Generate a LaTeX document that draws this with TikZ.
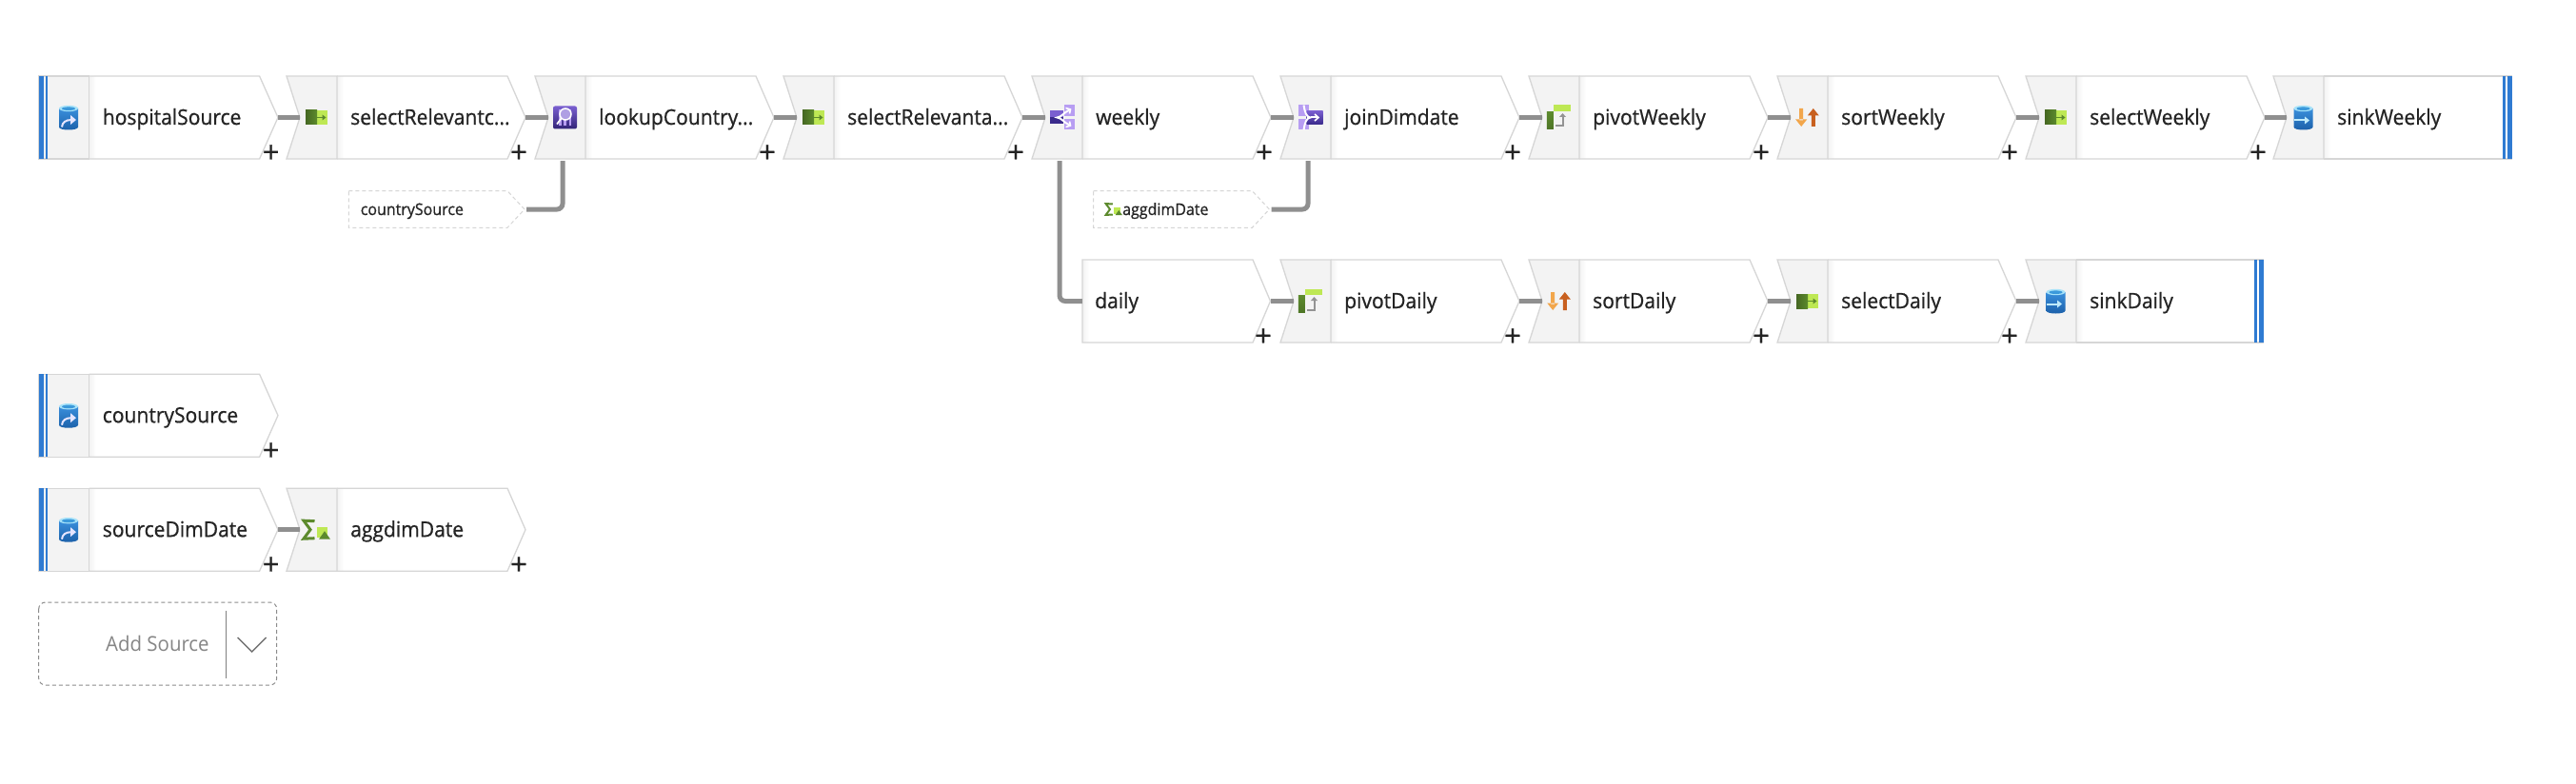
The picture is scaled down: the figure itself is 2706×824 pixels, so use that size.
\documentclass[tikz,border=0pt]{standalone}
\usepackage{fontspec}
\setmainfont{Open Sans}
\newfontfamily\labelfont[FakeBold=0.8,FakeStretch=0.94]{Open Sans}
\newfontfamily\plusfont[FakeBold=0.8]{Open Sans}
\newfontfamily\addfont[FakeStretch=0.95]{Open Sans}
\usetikzlibrary{calc}
\definecolor{edgegray}{HTML}{D6D6D6}
\definecolor{panelgray}{HTML}{F3F3F3}
\definecolor{linkgray}{HTML}{8F8F8F}
\definecolor{barblue}{HTML}{2F7BD2}
\definecolor{inkdark}{HTML}{242424}
\definecolor{lilac}{HTML}{B79DF2}
\definecolor{deeppurple}{HTML}{3A2A8C}
\definecolor{midpurple}{HTML}{7A5FD0}
\definecolor{lightgreen}{HTML}{BEE854}
\definecolor{darkgreen}{HTML}{5C8A2D}
\definecolor{sortlight}{HTML}{F2A64B}
\definecolor{sortdark}{HTML}{C8601F}
\tikzset{
  x=1pt,y=-1pt,
  nodeline/.style={draw=edgegray,line width=1.3pt,line join=miter},
  anchorbox/.style={draw=none,inner sep=0pt,minimum height=87pt},
  bodytext/.style={anchor=base west,inner sep=0pt,text=inkdark,font=\labelfont\fontsize{22.4}{27}\selectfont},
  smalltext/.style={anchor=base west,inner sep=0pt,text=inkdark,font=\labelfont\fontsize{17}{20}\selectfont},
  plusmark/.style={inner sep=0pt,text=inkdark,font=\plusfont\fontsize{31}{31}\selectfont},
  link/.style={draw=linkgray,line width=5pt,line cap=butt,rounded corners=6pt},
  refline/.style={draw=edgegray,line width=1pt,dash pattern=on 4pt off 3pt},
}
% ---------- icons (origin at centre of icon, 1 unit = 1 px)
\newcommand{\cyl}{%
  \shade[top color={rgb,255:red,58;green,143;blue,220},bottom color={rgb,255:red,27;green,95;blue,168}]
    (-10,-9.5) -- (-10,10) .. controls (-10,14) and (10,14) .. (10,10) -- (10,-9.5) -- cycle;
  \fill[cyan!35] (0,-9.5) ellipse (10 and 3.2);
  \fill[cyan!70!blue!80] (0,-9.3) ellipse (7 and 1.8);}
\newcommand{\iconSource}{\cyl
  \draw[white!90!blue,line width=2pt] (-7,10) .. controls (-6.5,5) and (-3,2.5) .. (3,2.5);
  \fill[white!90!blue] (2,-2.5) -- (8,2.5) -- (2,7.5) -- cycle;}
\newcommand{\iconSink}{\cyl
  \draw[white!75!cyan,line width=2pt] (-10,3) -- (3,3);
  \fill[white!75!cyan] (1.5,-1) -- (6.5,3) -- (1.5,7) -- cycle;}
\newcommand{\iconSelect}{%
  \fill[lightgreen] (0,-7.5) rectangle (11.5,7.5);
  \shade[left color=darkgreen!75!black,right color=darkgreen] (-11.5,-7.5) rectangle (0.5,7.5);
  \draw[darkgreen,line width=1.3pt] (0,0) -- (7,0);
  \fill[darkgreen] (6,-3) -- (10,0) -- (6,3) -- cycle;}
\newcommand{\iconLookup}{%
  \shade[top color=midpurple,bottom color=deeppurple!85!black,rounded corners=2pt] (-12.5,-12) rectangle (12.5,12);
  \fill[lilac] (-6.5,-8) rectangle (-4,9);
  \fill[lilac] (-1.2,-8) rectangle (1.2,9);
  \fill[lilac] (4,-8) rectangle (6.5,9);
  \filldraw[draw=white,fill=midpurple!60!white,line width=1.5pt] (0.5,-3.5) circle (6);
  \draw[white,line width=1.7pt] (-4,1) -- (-8.5,7);}
\newcommand{\iconSplit}{%
  \fill[lilac] (2,-13) rectangle (13,-1.5);
  \fill[lilac] (2,1.5) rectangle (13,13);
  \fill[midpurple] (-13,-7) rectangle (1,0);
  \fill[deeppurple] (-13,0) rectangle (1,7);
  \draw[white,line width=2pt] (8,-8) .. controls (3,-6) and (-1,0) .. (-5,0) .. controls (-1,0) and (3,6) .. (8,8);
  \draw[white,line width=1.6pt] (4,-10) -- (9,-8.5) -- (8,-4);
  \draw[white,line width=1.6pt] (4,10) -- (9,8.5) -- (8,4);}
\newcommand{\iconJoin}{%
  \fill[lilac] (-13,-13) rectangle (-2,-1.5);
  \fill[lilac] (-13,1.5) rectangle (-2,13);
  \shade[top color=midpurple,bottom color=deeppurple] (-4,-7) rectangle (13,7);
  \draw[white,line width=2pt] (-7,-13) .. controls (-6,-6) and (-4,0) .. (0,0) .. controls (-4,0) and (-6,6) .. (-7,13);
  \draw[white,line width=2pt] (0,0) -- (8,0);
  \draw[white,line width=1.6pt] (4.5,-3.5) -- (8.5,0) -- (4.5,3.5);}
\newcommand{\iconPivot}{%
  \fill[lightgreen] (-6,-13) rectangle (12,-6.3);
  \shade[top color=darkgreen,bottom color=darkgreen!85!black] (-12.7,-5.7) rectangle (-5.7,12);
  \draw[gray!85,line width=2pt] (-3.5,9) -- (4,9) -- (4,-1);
  \fill[gray!85] (0.5,-0.5) -- (4,-4.5) -- (7.5,-0.5) -- cycle;}
\newcommand{\iconSort}{%
  \begin{scope}[xshift=-6.3pt]
  \fill[sortlight] (-2,-9.5) rectangle (2,3) (-6,2) -- (6,2) -- (0,9.5) -- cycle;
  \end{scope}
  \begin{scope}[xshift=6.3pt]
  \fill[sortdark] (-2,-3) rectangle (2,9.5) (-6,-2) -- (6,-2) -- (0,-9.5) -- cycle;
  \end{scope}}
\newcommand{\iconAgg}[1]{%
  \fill[lightgreen] (0.5,-3) rectangle (11.5,8);
  \fill[darkgreen] (2.5,10) -- (8.5,1.5) -- (14.5,10) -- cycle;
  \draw[darkgreen,line width=#1pt,line join=miter] (-2,-9) -- (-13.5,-9.5) -- (-6.5,0) -- (-13.5,9.5) -- (-2,9);}
% ---------- node bodies (L = left edge, c = vertical centre)
\newcommand{\nodeparts}[3]{% name, text, icon
  \node[anchorbox,minimum width=237pt] (#1) at (132.5,0) {};
  \coordinate (#1-port) at (29,45.5);
  \node[bodytext] (#1-label) at (67,7.5) {#2};
  \begin{scope}[shift={(31.5,0)}]#3\end{scope}}
\newcommand{\stepnode}[5]{\begin{scope}[shift={(#2,#3)}]
  \fill[white] (53,-43.5) -- (232,-43.5) -- (251,0) -- (232,43.5) -- (53,43.5) -- cycle;
  \fill[panelgray] (0,-43.5) -- (53,-43.5) -- (53,43.5) -- (0,43.5) -- (14,0) -- cycle;
  \shade[left color=black!5,right color=white] (53,-42.5) rectangle (60,42.5);
  \draw[nodeline] (53,-43.5) -- (0,-43.5) -- (14,0) -- (0,43.5) -- (53,43.5) -- cycle;
  \draw[nodeline] (53,-43.5) -- (232,-43.5) -- (251,0) -- (232,43.5) -- (53,43.5);
  \node[plusmark] (#1-plus) at (244,38) {+};
  \nodeparts{#1}{#4}{#5}\end{scope}}
\newcommand{\sourcenode}[4]{\begin{scope}[shift={(40.6,#2)}]
  \fill[white] (53,-43.5) -- (232,-43.5) -- (251.4,0) -- (232,43.5) -- (53,43.5) -- cycle;
  \fill[panelgray] (0,-43.5) rectangle (53,43.5);
  \shade[left color=black!5,right color=white] (53,-42.5) rectangle (60,42.5);
  \draw[nodeline] (53,-43.5) -- (0,-43.5) -- (0,43.5) -- (53,43.5) -- cycle;
  \draw[nodeline] (53,-43.5) -- (232,-43.5) -- (251.4,0) -- (232,43.5) -- (53,43.5);
  \fill[barblue] (0,-43.5) rectangle (5.2,43.5);
  \fill[barblue] (7.2,-43.5) rectangle (9.6,43.5);
  \node[plusmark] (#1-plus) at (244,38) {+};
  \node[anchorbox,minimum width=251.4pt] (#1) at (125.7,0) {};
  \node[bodytext] (#1-label) at (67,7.5) {#3};
  \begin{scope}[shift={(31.4,0)}]#4\end{scope}\end{scope}}
\newcommand{\sinknode}[6]{\begin{scope}[shift={(#2,#3)}]
  \fill[white] (53,-43.5) rectangle (#6,43.5);
  \fill[panelgray] (0,-43.5) -- (53,-43.5) -- (53,43.5) -- (0,43.5) -- (14,0) -- cycle;
  \shade[left color=black!5,right color=white] (53,-42.5) rectangle (60,42.5);
  \draw[nodeline] (53,-43.5) -- (0,-43.5) -- (14,0) -- (0,43.5) -- (53,43.5) -- cycle;
  \draw[nodeline] (53,-43.5) -- (#6,-43.5) (53,43.5) -- (#6,43.5);
  \fill[barblue] ($(#6,-43.5)+(-10.5,0)$) rectangle ($(#6,43.5)+(-7,0)$);
  \fill[barblue] ($(#6,-43.5)+(-5.2,0)$) rectangle (#6,43.5);
  \nodeparts{#1}{#4}{#5}\end{scope}}
\newcommand{\plainnode}[4]{\begin{scope}[shift={(#2,#3)}]
  \fill[white] (0,-43.5) -- (179,-43.5) -- (197.5,0) -- (179,43.5) -- (0,43.5) -- cycle;
  \shade[left color=black!5,right color=white] (0,-42.5) rectangle (7,42.5);
  \draw[nodeline] (0,43.5) -- (0,-43.5) -- (179,-43.5) -- (197.5,0) -- (179,43.5) -- cycle;
  \node[plusmark] (#1-plus) at (190,38) {+};
  \node[anchorbox,minimum width=197.5pt] (#1) at (98.75,0) {};
  \node[bodytext] (#1-label) at (13,7.5) {#4};\end{scope}}
\newcommand{\refnode}[5]{\begin{scope}[shift={(#2,220)}]
  \draw[refline,fill=white] (0,-19.3) -- (#3-18,-19.3) -- (#3,0) -- (#3-18,19.3) -- (0,19.3) -- cycle;
  \node[anchorbox,minimum height=38.6pt,minimum width=#3 pt] (#1) at (#3/2,0) {};
  \node[smalltext] (#1-label) at (#4,6) {#5};\end{scope}}
\begin{document}
\begin{tikzpicture}
\useasboundingbox (0,0) rectangle (2706,824);
\fill[white] (0,0) rectangle (2706,824);
% row 1
\sourcenode{hospital}{123.5}{hospitalSource}{\iconSource}
\stepnode{selc}{301}{123.5}{selectRelevantc...}{\iconSelect}
\stepnode{lookup}{562}{123.5}{lookupCountry...}{\iconLookup}
\stepnode{sela}{823}{123.5}{selectRelevanta...}{\iconSelect}
\stepnode{weekly}{1084}{123.5}{weekly}{\iconSplit}
\stepnode{join}{1345}{123.5}{joinDimdate}{\iconJoin}
\stepnode{pivw}{1606}{123.5}{pivotWeekly}{\iconPivot}
\stepnode{sortw}{1867}{123.5}{sortWeekly}{\iconSort}
\stepnode{selw}{2128}{123.5}{selectWeekly}{\iconSelect}
\sinknode{sinkw}{2388}{123.5}{sinkWeekly}{\iconSink}{251}
% row 2
\plainnode{daily}{1137}{316.5}{daily}
\stepnode{pivd}{1345}{316.5}{pivotDaily}{\iconPivot}
\stepnode{sortd}{1606}{316.5}{sortDaily}{\iconSort}
\stepnode{seld}{1867}{316.5}{selectDaily}{\iconSelect}
\sinknode{sinkd}{2128}{316.5}{sinkDaily}{\iconSink}{250}
% lower rows
\sourcenode{country}{436.7}{countrySource}{\iconSource}
\sourcenode{dimdate}{556.7}{sourceDimDate}{\iconSource}
\stepnode{agg}{301}{556.7}{aggdimDate}{\iconAgg{3}}
% reference stubs
\refnode{refcountry}{366.4}{184.6}{12.2}{countrySource}
\refnode{refagg}{1148.7}{184.7}{30.3}{aggdimDate}
\begin{scope}[shift={(1170,220)},scale=0.62]\iconAgg{2}\end{scope}
% connectors
\foreach \a/\b in {hospital/selc,selc/lookup,lookup/sela,sela/weekly,weekly/join,join/pivw,pivw/sortw,sortw/selw,selw/sinkw,daily/pivd,pivd/sortd,sortd/seld,seld/sinkd,dimdate/agg}
  \draw[link] (\a.east) -- (\b.west);
\draw[link] ($(refcountry.east)+(2,0)$) -| (lookup-port);
\draw[link] ($(refagg.east)+(2,0)$) -| (join-port);
\draw[link] (weekly-port) |- (daily.west);
% add source
\draw[draw=black!45,line width=1pt,dash pattern=on 4pt off 3pt,rounded corners=7pt] (40.7,633) rectangle (290.7,720);
\node[anchor=base west,inner sep=0pt,text=black!48,font=\addfont\fontsize{21.5}{26}\selectfont] (addsource) at (111,684) {Add Source};
\coordinate (divtop) at (237.5,641.7);
\coordinate (divbot) at (237.5,713);
\draw[black!50,line width=1pt] (divtop) -- (divbot);
\draw[black!55,line width=1.4pt] (249.6,670) -- (264.6,685) -- (279.6,670);
\end{tikzpicture}
\end{document}
